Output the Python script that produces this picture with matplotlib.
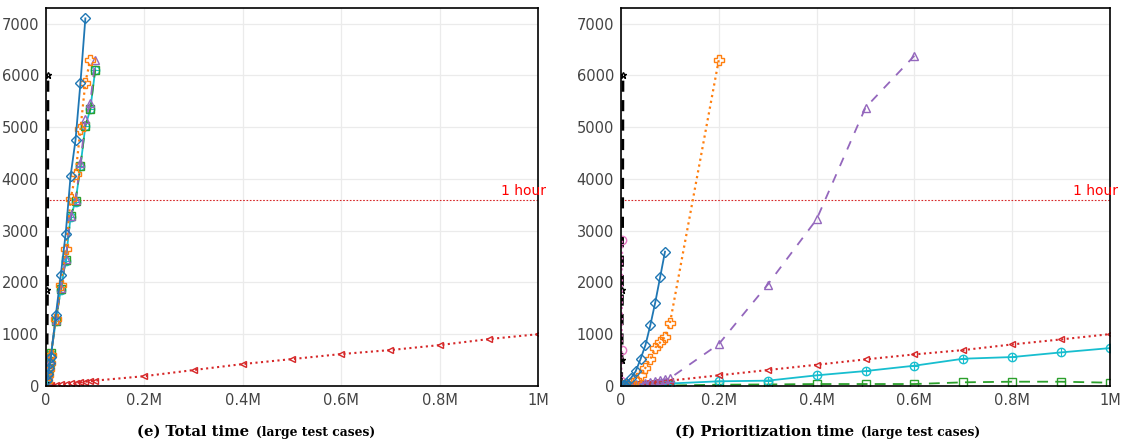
import matplotlib
matplotlib.use("Agg")
import matplotlib.pyplot as plt

# ---------------- data ----------------
# x positions (number of test cases)
x_small = [2000, 4000, 6000, 8000]
x_step = [10000, 20000, 30000, 40000, 50000, 60000, 70000, 80000, 90000, 100000]
x_large = [200000, 300000, 400000, 500000, 600000, 700000, 800000, 900000, 1000000]

# (e) Total time
tot_blue_x = x_small + x_step[:8]
tot_blue_y = [110, 230, 340, 450, 560, 1370, 2140, 2940, 4060, 4750, 5850, 7100]
tot_orange_x = x_small + x_step[:9]
tot_orange_y = [100, 220, 330, 440, 600, 1300, 1960, 2640, 3610, 4090, 4960, 5860, 6300]
tot_purple_x = x_small + x_step
tot_purple_y = [120, 240, 360, 480, 620, 1280, 1900, 2450, 3290, 3600, 4310, 5150, 5470, 6300]
tot_green_x = x_small + x_step
tot_green_y = [110, 230, 350, 470, 630, 1260, 1870, 2430, 3280, 3570, 4250, 5030, 5350, 6110]
tot_cyan_x = x_small + x_step
tot_cyan_y = [100, 220, 340, 460, 610, 1250, 1860, 2420, 3270, 3560, 4240, 5020, 5340, 6100]
tot_red_x = x_small + x_step + x_large
tot_red_y = [2, 4, 6, 8, 12, 22, 32, 42, 52, 62, 72, 82, 92, 104,
             190, 308, 424, 520, 617, 694, 790, 906, 1000]
tot_black_x = [1000, 2000, 3000, 4000]
tot_black_y = [50, 500, 1850, 6000]

# (f) Prioritization time
pri_blue_x = x_small + x_step[:9]
pri_blue_y = [5, 10, 18, 28, 50, 150, 283, 520, 790, 1175, 1612, 2100, 2595]
pri_orange_x = x_small + x_step + x_large[:1]
pri_orange_y = [2, 4, 7, 10, 20, 60, 120, 212, 353, 520, 738, 842, 950, 1208, 6300]
pri_purple_x = x_small + x_step + x_large[:5]
pri_purple_y = [1, 2, 4, 6, 10, 20, 30, 45, 60, 75, 95, 110, 130, 150,
                809, 1959, 3218, 5376, 6378]
pri_red_x = x_small + x_step + x_large
pri_red_y = [2, 4, 6, 8, 12, 22, 32, 42, 52, 62, 72, 82, 92, 104,
             206, 308, 410, 514, 610, 694, 803, 900, 1002]
pri_cyan_x = x_small + x_step + x_large
pri_cyan_y = [1, 1, 2, 2, 4, 8, 12, 16, 20, 25, 30, 35, 40, 48,
              91, 103, 206, 289, 392, 527, 559, 649, 732]
pri_green_x = x_small + x_step + x_large
pri_green_y = [0, 0, 0, 1, 1, 2, 3, 4, 5, 6, 7, 8, 9, 10,
               25, 30, 38, 38, 38, 71, 83, 83, 64]
pri_black_x = [1000, 2000, 3000, 4000]
pri_black_y = [50, 500, 1850, 6000]
pri_pink_x = [500, 1500, 2500]
pri_pink_y = [100, 694, 2813]

x_ticks = [0, 200000, 400000, 600000, 800000, 1000000]
x_tick_labels = ['0', '0.2M', '0.4M', '0.6M', '0.8M', '1M']
y_ticks = [0, 1000, 2000, 3000, 4000, 5000, 6000, 7000]
one_hour = 3600

captions = [('(e) Total time', '(large test cases)'),
            ('(f) Prioritization time', '(large test cases)')]

# ---------------- styling ----------------
C_BLUE = '#1f77b4'
C_ORANGE = '#ff7f0e'
C_GREEN = '#2ca02c'
C_RED = '#d62728'
C_PURPLE = '#9467bd'
C_PINK = '#e377c2'
C_CYAN = '#17becf'

fig = plt.figure(figsize=(11.26, 4.44), dpi=100)
ax1 = fig.add_axes([46/1126, 1-386/444, (538-46)/1126, (386-8)/444])
ax2 = fig.add_axes([621/1126, 1-386/444, (1110-621)/1126, (386-8)/444])


def mk(ax, x, y, color, ls, marker, ms=6, lw=1.3, dashes=None, z=2):
    kw = dict(color=color, linestyle=ls, linewidth=lw, marker=marker,
              markersize=ms, markerfacecolor='none', markeredgecolor=color,
              markeredgewidth=1.0, zorder=z)
    line, = ax.plot(x, y, **kw)
    if dashes is not None:
        line.set_dashes(dashes)
    return line


def cyan(ax, x, y):
    mk(ax, x, y, C_CYAN, '-', 'o', ms=6, lw=1.3)
    ax.plot(x, y, linestyle='none', marker='+', markersize=6,
            markeredgecolor=C_CYAN, markeredgewidth=0.8)


# Left: total time
mk(ax1, tot_red_x, tot_red_y, C_RED, ':', '<', ms=5, lw=1.5)
mk(ax1, tot_black_x, tot_black_y, 'black', '--', '*', ms=5, lw=2.0, dashes=(4, 3))
cyan(ax1, tot_cyan_x, tot_cyan_y)
mk(ax1, tot_green_x, tot_green_y, C_GREEN, '--', 's', ms=6, lw=1.3, dashes=(6, 4))
mk(ax1, tot_purple_x, tot_purple_y, C_PURPLE, '--', '^', ms=6, lw=1.3, dashes=(5, 5))
mk(ax1, tot_orange_x, tot_orange_y, C_ORANGE, ':', 'P', ms=7, lw=1.6)
mk(ax1, tot_blue_x, tot_blue_y, C_BLUE, '-', 'D', ms=5, lw=1.3)

# Right: prioritization time
mk(ax2, pri_green_x, pri_green_y, C_GREEN, '--', 's', ms=6, lw=1.3, dashes=(6, 4))
cyan(ax2, pri_cyan_x, pri_cyan_y)
mk(ax2, pri_red_x, pri_red_y, C_RED, ':', '<', ms=5, lw=1.5)
mk(ax2, pri_purple_x, pri_purple_y, C_PURPLE, '--', '^', ms=6, lw=1.3, dashes=(5, 5))
mk(ax2, pri_black_x, pri_black_y, 'black', '--', '*', ms=5, lw=2.0, dashes=(4, 3))
mk(ax2, pri_pink_x, pri_pink_y, C_PINK, ':', 'o', ms=6, lw=1.5)
mk(ax2, pri_orange_x, pri_orange_y, C_ORANGE, ':', 'P', ms=7, lw=1.6)
mk(ax2, pri_blue_x, pri_blue_y, C_BLUE, '-', 'D', ms=5, lw=1.3)

for ax in [ax1, ax2]:
    ax.set_xlim(0, 1000000)
    ax.set_ylim(0, 7300)
    ax.set_xticks(x_ticks)
    ax.set_xticklabels(x_tick_labels)
    ax.set_yticks(y_ticks)
    ax.grid(True, color='#ebebeb', linewidth=0.9, zorder=0)
    ax.set_axisbelow(True)
    ax.tick_params(length=0, labelsize=10.5, colors='#444444', pad=5)
    for sp in ax.spines.values():
        sp.set_linewidth(1.2)
        sp.set_color('black')
    ax.axhline(one_hour, color=C_RED, linestyle=(0, (1.5, 1.5)), linewidth=0.8, zorder=1)
    ax.annotate('1 hour', xy=(1.0, one_hour), xycoords=('axes fraction', 'data'),
                xytext=(6, 1.5), textcoords='offset points', ha='right', va='bottom',
                color='red', fontsize=10, annotation_clip=False)

# captions
y_cap = 1 - 436/444
for x0, (cap1, cap2) in zip([137/1126, 675/1126], captions):
    t = fig.text(x0, y_cap, cap1, fontsize=10.6, family='DejaVu Serif',
                 weight='bold', ha='left', va='baseline')
    fig.canvas.draw()
    bb = t.get_window_extent()
    fig.text((bb.x1 + 7) / 1126, y_cap, cap2, fontsize=8.8, family='DejaVu Serif',
             weight='bold', ha='left', va='baseline')

fig.savefig('out.png', dpi=100)
